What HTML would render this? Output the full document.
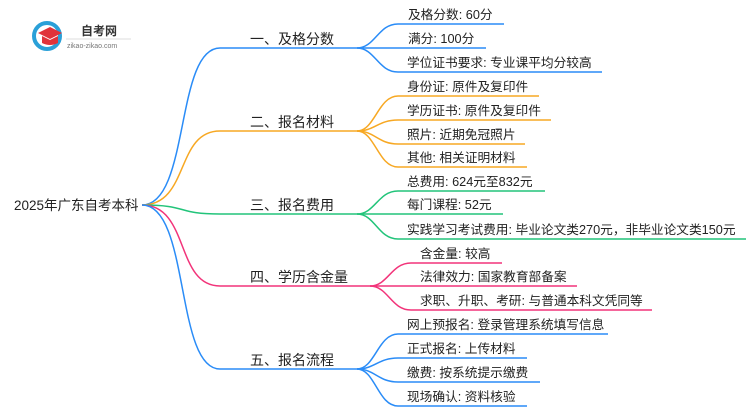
<!DOCTYPE html>
<html><head><meta charset="utf-8"><style>
body{margin:0;background:#fff;width:750px;height:410px;overflow:hidden}
svg text{font-family:"Liberation Sans","Noto Sans CJK SC",sans-serif;fill:#222}
</style></head><body>
<svg width="750" height="410" viewBox="0 0 750 410" xmlns="http://www.w3.org/2000/svg" fill="none" stroke-width="1.5">
<circle cx="47" cy="36" r="13" stroke="#2aa0d8" stroke-width="4"/>
<path d="M38 33 L50 27 L62 33 L50 39 Z" fill="#e0333a" stroke="none"/>
<path d="M42 36 L42 43 Q50 47 58 43 L58 36 L50 40 Z" fill="#e0333a" stroke="none"/>
<text x="81" y="35" font-size="12" font-weight="bold" style="fill:#333">自考网</text>
<line x1="66" y1="39" x2="131" y2="39" stroke="#ddd" stroke-width="1"/>
<text x="67" y="48" font-size="7" style="fill:#777">zikao-zikao.com</text>

<text x="14" y="210" font-size="13.5">2025年广东自考本科</text>
<g>
<path d="M142 205 C190 205 175 48 220 48 L357 48" stroke="#2a8cf7"/>
<path d="M142 205 C190 205 175 131 220 131 L357 131" stroke="#f7a823"/>
<path d="M142 205 C190 205 175 214 220 214 L357 214" stroke="#22c47a"/>
<path d="M142 205 C190 205 175 286 220 286 L370 286" stroke="#f2347a"/>
<path d="M142 205 C190 205 175 369 220 369 L357 369" stroke="#2a8cf7"/>
</g>
<g font-size="14">
<text x="250" y="44">一、及格分数</text>
<text x="250" y="127">二、报名材料</text>
<text x="250" y="210">三、报名费用</text>
<text x="250" y="282">四、学历含金量</text>
<text x="250" y="365">五、报名流程</text>
</g>
<g stroke="#2a8cf7">
<path d="M357 48 C375 48 378 24 398 24 L504 24"/>
<path d="M357 48 L486 48"/>
<path d="M357 48 C375 48 378 72 398 72 L602 72"/>
</g>
<g stroke="#f7a823">
<path d="M357 131 C375 131 378 96 398 96 L539 96"/>
<path d="M357 131 C375 131 378 120 398 120 L551 120"/>
<path d="M357 131 C375 131 378 144 398 144 L525 144"/>
<path d="M357 131 C375 131 378 167 398 167 L527 167"/>
</g>
<g stroke="#22c47a">
<path d="M357 214 C375 214 378 191 398 191 L545 191"/>
<path d="M357 214 L503 214"/>
<path d="M357 214 C375 214 378 239 398 239 L746 239"/>
</g>
<g stroke="#f2347a">
<path d="M370 286 C388 286 391 263 411 263 L502 263"/>
<path d="M370 286 L577 286"/>
<path d="M370 286 C388 286 391 310 411 310 L652 310"/>
</g>
<g stroke="#2a8cf7">
<path d="M357 369 C375 369 378 334 398 334 L608 334"/>
<path d="M357 369 C375 369 378 358 398 358 L527 358"/>
<path d="M357 369 C375 369 378 382 398 382 L540 382"/>
<path d="M357 369 C375 369 378 406 398 406 L527 406"/>
</g>
<g font-size="12.7">
<text x="408" y="19">及格分数: 60分</text>
<text x="408" y="43">满分: 100分</text>
<text x="407" y="67">学位证书要求: 专业课平均分较高</text>
<text x="407" y="91">身份证: 原件及复印件</text>
<text x="407" y="115">学历证书: 原件及复印件</text>
<text x="407" y="139">照片: 近期免冠照片</text>
<text x="407" y="162">其他: 相关证明材料</text>
<text x="407" y="186">总费用: 624元至832元</text>
<text x="407" y="209">每门课程: 52元</text>
<text x="407" y="234">实践学习考试费用: 毕业论文类270元，非毕业论文类150元</text>
<text x="420" y="258">含金量: 较高</text>
<text x="420" y="281">法律效力: 国家教育部备案</text>
<text x="420" y="305">求职、升职、考研: 与普通本科文凭同等</text>
<text x="407" y="329">网上预报名: 登录管理系统填写信息</text>
<text x="407" y="353">正式报名: 上传材料</text>
<text x="407" y="377">缴费: 按系统提示缴费</text>
<text x="407" y="401">现场确认: 资料核验</text>
</g>
</svg>
</body></html>
